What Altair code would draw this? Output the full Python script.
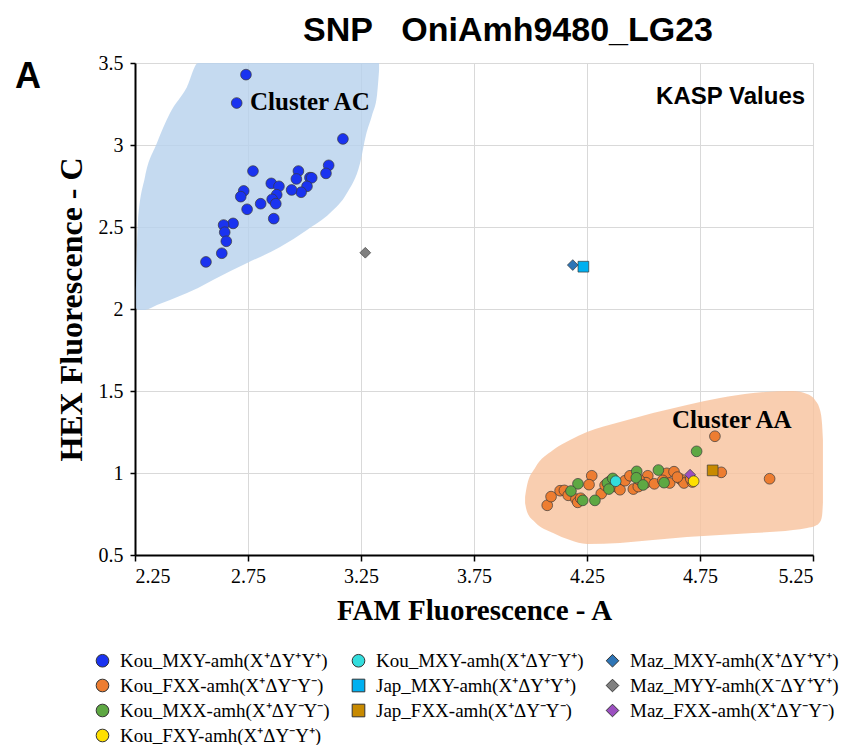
import altair as alt
import pandas as pd

# ---------------- data ----------------
kou_mxy_x = [2.741, 2.700, 3.170, 3.107, 3.095, 2.772, 2.973, 2.964, 3.024, 3.032, 3.011, 2.985, 2.943,
             2.853, 2.887, 2.877, 2.857, 2.873, 2.864, 2.806, 2.746, 2.731, 2.718, 2.684, 2.642, 2.647,
             2.654, 2.634, 2.564]
kou_mxy_y = [3.429, 3.256, 3.037, 2.876, 2.827, 2.841, 2.841, 2.793, 2.801, 2.800, 2.748, 2.712, 2.726,
             2.766, 2.748, 2.697, 2.669, 2.642, 2.551, 2.642, 2.608, 2.720, 2.685, 2.522, 2.512, 2.468,
             2.413, 2.340, 2.287]

kou_fxx_x = [4.816, 4.844, 5.058, 4.074, 4.091, 4.131, 4.150, 4.167, 4.201, 4.209, 4.222, 4.271, 4.259,
             4.313, 4.346, 4.352, 4.377, 4.396, 4.418, 4.440, 4.455, 4.477, 4.519, 4.511, 4.548, 4.603,
             4.635, 4.616, 4.663, 4.679, 4.716, 4.709, 4.585, 4.650, 4.480, 4.330]
kou_fxx_y = [1.224, 1.004, 0.965, 0.803, 0.856, 0.892, 0.894, 0.864, 0.841, 0.821, 0.846, 0.983, 0.929,
             0.874, 0.919, 0.950, 0.917, 0.898, 0.953, 0.983, 0.902, 0.917, 0.983, 0.941, 0.934, 0.998,
             1.008, 0.939, 0.963, 0.939, 0.945, 0.965, 0.955, 0.975, 0.960, 0.925]

kou_mxx_x = [4.735, 4.210, 4.179, 4.231, 4.285, 4.340, 4.347, 4.364, 4.470, 4.468, 4.498, 4.566, 4.591]
kou_mxx_y = [1.132, 0.934, 0.890, 0.833, 0.833, 0.939, 0.902, 0.967, 1.010, 0.971, 0.927, 1.018, 0.941]

kou_mxy2_x = [4.377]
kou_mxy2_y = [0.950]
kou_fxy_x = [4.722]
kou_fxy_y = [0.950]
maz_fxx_x = [4.706]
maz_fxx_y = [0.990]
jap_fxx_x = [4.806]
jap_fxx_y = [1.016]
maz_mxy_x = [4.187]
maz_mxy_y = [2.268]
jap_mxy_x = [4.234]
jap_mxy_y = [2.258]
maz_myy_x = [3.269]
maz_myy_y = [2.343]

L_KOU_MXY = "Kou_MXY-amh(X\u207a\u0394Y\u207aY\u207a)"
L_KOU_FXX = "Kou_FXX-amh(X\u207a\u0394Y\u207bY\u207b)"
L_KOU_MXX = "Kou_MXX-amh(X\u207a\u0394Y\u207bY\u207b)"
L_KOU_FXY = "Kou_FXY-amh(X\u207a\u0394Y\u207bY\u207a)"
L_KOU_MXY2 = "Kou_MXY-amh(X\u207a\u0394Y\u207bY\u207a)"
L_JAP_MXY = "Jap_MXY-amh(X\u207a\u0394Y\u207aY\u207a)"
L_JAP_FXX = "Jap_FXX-amh(X\u207a\u0394Y\u207bY\u207b)"
L_MAZ_MXY = "Maz_MXY-amh(X\u207a\u0394Y\u207aY\u207a)"
L_MAZ_MYY = "Maz_MYY-amh(X\u207b\u0394Y\u207aY\u207a)"
L_MAZ_FXX = "Maz_FXX-amh(X\u207a\u0394Y\u207bY\u207b)"

# legend entry order (the legend lays them out in columns: 4 / 3 / 3)
legend_order = [L_KOU_MXY, L_KOU_FXX, L_KOU_MXX, L_MAZ_FXX,
                L_KOU_MXY2, L_JAP_MXY, L_JAP_FXX, L_KOU_FXY,
                L_MAZ_MXY, L_MAZ_MYY]
legend_colors = ["#1a33f0", "#ed7d31", "#5ea843", "#9b4fc0",
                 "#33dddd", "#00b0f0", "#c88a00", "#ffe000",
                 "#2e75b6", "#808080"]
legend_shapes = ["circle", "circle", "circle", "diamond",
                 "circle", "square", "square", "circle",
                 "diamond", "diamond"]

# cluster outlines (x, upper y, lower y)
blue_blob_x = [2.254, 2.263, 2.294, 2.347, 2.405, 2.480, 2.529, 2.595, 2.746, 2.892, 3.011, 3.113,
               3.188, 3.246, 3.272, 3.299, 3.321, 3.330]
blue_blob_hi = [2.116, 2.530, 2.805, 3.012, 3.195, 3.354, 3.5, 3.5, 3.5, 3.5, 3.5, 3.5,
                3.5, 3.5, 3.5, 3.5, 3.5, 3.5]
blue_blob_lo = [2.006, 1.994, 1.994, 2.024, 2.055, 2.098, 2.128, 2.177, 2.280, 2.378, 2.482, 2.585,
                2.707, 2.890, 3.061, 3.183, 3.305, 3.457]

orange_blob_x = [3.976, 3.985, 4.020, 4.100, 4.175, 4.250, 4.396, 4.542, 4.692, 4.838, 4.985, 5.162,
                 5.224, 5.259, 5.281, 5.290, 5.294]
orange_blob_hi = [0.854, 0.927, 1.030, 1.140, 1.201, 1.250, 1.311, 1.366, 1.415, 1.457, 1.488, 1.500,
                  1.482, 1.445, 1.384, 1.300, 1.200]
orange_blob_lo = [0.817, 0.762, 0.700, 0.634, 0.591, 0.567, 0.573, 0.591, 0.610, 0.622, 0.634, 0.652,
                  0.665, 0.677, 0.701, 0.740, 0.820]

x_ticks = [2.25, 2.75, 3.25, 3.75, 4.25, 4.75, 5.25]
y_ticks = [0.5, 1.0, 1.5, 2.0, 2.5, 3.0, 3.5]

cluster_text = ["Cluster AC", "Cluster AA"]
cluster_x = [2.759, 4.626]
cluster_y = [3.213, 1.274]

# ---------------- tables ----------------
series = [
    (L_KOU_MXY, kou_mxy_x, kou_mxy_y),
    (L_KOU_FXX, kou_fxx_x, kou_fxx_y),
    (L_KOU_MXX, kou_mxx_x, kou_mxx_y),
    (L_KOU_MXY2, kou_mxy2_x, kou_mxy2_y),
    (L_MAZ_FXX, maz_fxx_x, maz_fxx_y),
    (L_KOU_FXY, kou_fxy_x, kou_fxy_y),
    (L_JAP_FXX, jap_fxx_x, jap_fxx_y),
    (L_MAZ_MXY, maz_mxy_x, maz_mxy_y),
    (L_JAP_MXY, jap_mxy_x, jap_mxy_y),
    (L_MAZ_MYY, maz_myy_x, maz_myy_y),
]
rows = []
order = 0
for name, xs, ys in series:
    for xv, yv in zip(xs, ys):
        rows.append({"group": name, "x": xv, "y": yv, "o": order})
        order += 1
pts = pd.DataFrame(rows)

blue_df = pd.DataFrame({"x": blue_blob_x, "y": blue_blob_hi, "y2": blue_blob_lo})
orange_df = pd.DataFrame({"x": orange_blob_x, "y": orange_blob_hi, "y2": orange_blob_lo})
clusters_df = pd.DataFrame({"text": cluster_text, "x": cluster_x, "y": cluster_y})
kasp_df = pd.DataFrame({"text": ["KASP Values"], "x": [5.215], "y": [3.25]})
panel_df = pd.DataFrame({"text": ["A"], "x": [1.719], "y": [3.348]})

SERIF = "Liberation Serif, Times New Roman, serif"

# ---------------- encodings ----------------
xscale = alt.Scale(domain=[2.25, 5.25], nice=False, zero=False)
yscale = alt.Scale(domain=[0.5, 3.5], nice=False, zero=False)

x_axis = alt.Axis(values=x_ticks, format=".3~g", title="FAM Fluorescence - A",
                  titleFont=SERIF, titleFontSize=29, titleFontWeight="bold",
                  titleColor="black", titlePadding=10,
                  labelFont=SERIF, labelFontSize=20, labelColor="black",
                  labelPadding=5, domainColor="black", domainWidth=2,
                  tickColor="black", tickWidth=1.5, tickSize=6,
                  gridColor="#d9d9d9", gridWidth=1)
y_axis = alt.Axis(values=y_ticks, format=".3~g", title="HEX Fluorescence - C",
                  titleFont=SERIF, titleFontSize=32, titleFontWeight="bold",
                  titleColor="black", titlePadding=10,
                  labelFont=SERIF, labelFontSize=20, labelColor="black",
                  labelPadding=7, domainColor="black", domainWidth=2,
                  tickColor="black", tickWidth=1.5, tickSize=5,
                  gridColor="#d9d9d9", gridWidth=1)

X = alt.X("x:Q", scale=xscale, axis=x_axis)
Y = alt.Y("y:Q", scale=yscale, axis=y_axis)

blue_blob = alt.Chart(blue_df).mark_area(color="#b6d1ec", opacity=0.8, interpolate="monotone").encode(
    x=X, y=Y, y2="y2:Q")
orange_blob = alt.Chart(orange_df).mark_area(color="#f7c29c", opacity=0.8, interpolate="monotone").encode(
    x=X, y=Y, y2="y2:Q")

points = alt.Chart(pts).mark_point(filled=True, size=115, stroke="#3a3a3a", strokeWidth=0.7,
                                   opacity=1).encode(
    x=X, y=Y,
    color=alt.Color("group:N", scale=alt.Scale(domain=legend_order, range=legend_colors),
                    legend=alt.Legend(title=None, orient="none", legendX=-42, legendY=588,
                                      columns=3, columnPadding=19, rowPadding=5,
                                      symbolSize=160, symbolStrokeColor="#333333",
                                      symbolStrokeWidth=1, labelFont=SERIF,
                                      labelFontSize=19, labelColor="black", labelOffset=8,
                                      labelLimit=400)),
    shape=alt.Shape("group:N", scale=alt.Scale(domain=legend_order, range=legend_shapes)),
    order=alt.Order("o:Q"),
)

cluster_labels = alt.Chart(clusters_df).mark_text(
    font=SERIF, fontSize=25, fontWeight="bold", align="left",
    baseline="alphabetic", color="black").encode(x=X, y=Y, text="text:N")
kasp_label = alt.Chart(kasp_df).mark_text(
    font="Liberation Sans", fontSize=24, fontWeight="bold", align="right",
    baseline="alphabetic", color="black").encode(x=X, y=Y, text="text:N")
panel_label = alt.Chart(panel_df).mark_text(
    font="Liberation Sans", fontSize=36, fontWeight="bold", align="left",
    baseline="alphabetic", color="black", clip=False).encode(x=X, y=Y, text="text:N")

chart = alt.layer(blue_blob, orange_blob, points, cluster_labels, kasp_label, panel_label).properties(
    width=678, height=492,
    title=alt.TitleParams(text="SNP\u00a0\u00a0\u00a0OniAmh9480_LG23", font="Liberation Sans",
                          fontSize=34, fontWeight="bold", anchor="middle", dx=34, offset=5,
                          frame="group", color="black"),
    autosize=alt.AutoSizeParams(type="none"),
    padding={"left": 127, "top": 55, "right": 29, "bottom": 190},
).configure_view(stroke=None)

chart.save("out.html", embed_options={"renderer": "svg", "actions": False})
